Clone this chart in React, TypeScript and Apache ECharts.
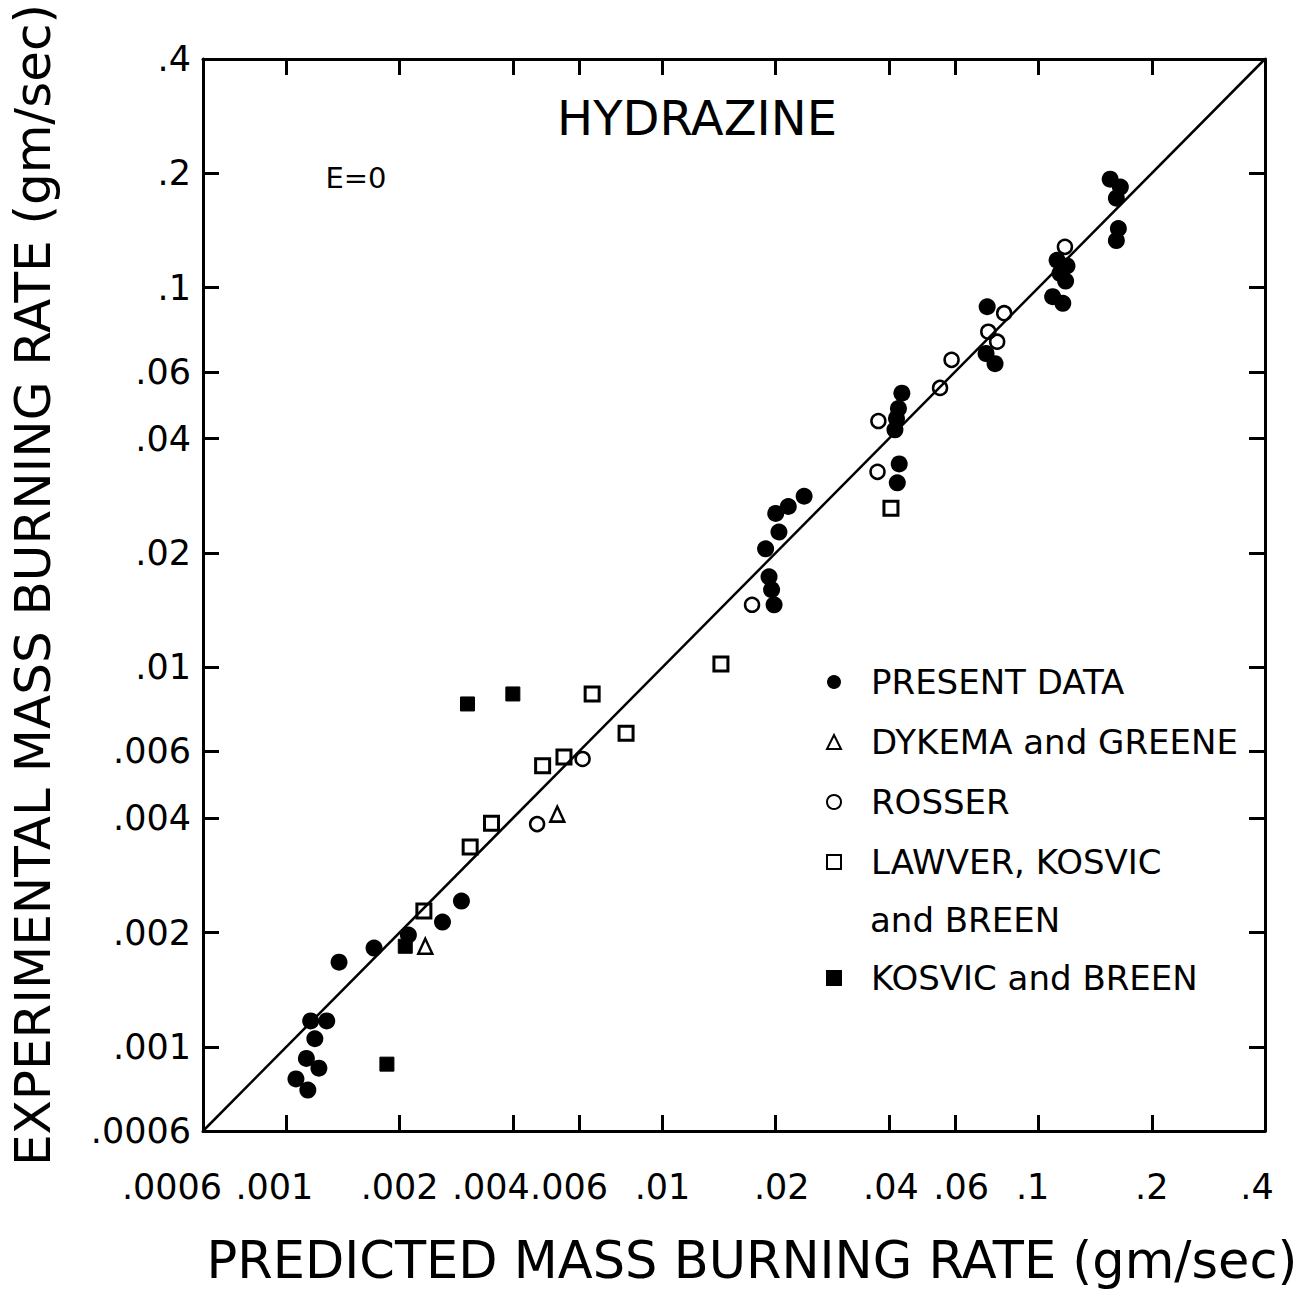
import React, { useEffect, useRef } from "react";
import * as echarts from "echarts";

// ---------- data (gm/sec) ----------
// tick positions / labels, identical on both axes
const tickValues = [0.0006, 0.001, 0.002, 0.004, 0.006, 0.01, 0.02, 0.04, 0.06, 0.1, 0.2, 0.4];
const tickLabels = [".0006", ".001", ".002", ".004", ".006", ".01", ".02", ".04", ".06", ".1", ".2", ".4"];

// [predicted, experimental]
const presentData = [
  [0.155, 0.193], [0.165, 0.184], [0.161, 0.172], [0.163, 0.143], [0.161, 0.133],
  [0.112, 0.118], [0.119, 0.114], [0.114, 0.109], [0.118, 0.104], [0.109, 0.0946], [0.116, 0.0909],
  [0.073, 0.089], [0.0725, 0.067], [0.0766, 0.063],
  [0.0433, 0.0527], [0.0424, 0.048], [0.0419, 0.0452], [0.0415, 0.0422], [0.0426, 0.0343], [0.0421, 0.0306],
  [0.0238, 0.0282], [0.0216, 0.0265], [0.02, 0.0254], [0.0204, 0.0227], [0.0188, 0.0205],
  [0.0192, 0.0173], [0.0195, 0.016], [0.0198, 0.0146],
  [0.00292, 0.00242], [0.0026, 0.00213], [0.00211, 0.00197], [0.00171, 0.00182], [0.00138, 0.00167],
  [0.00116, 0.00117], [0.00128, 0.00117], [0.00119, 0.00105], [0.00113, 0.000932], [0.00122, 0.000878],
  [0.00106, 0.000823], [0.00114, 0.000769],
];
const dykemaGreene = [[0.00525, 0.0041], [0.00234, 0.00184]];
const rosser = [
  [0.1175, 0.128], [0.081, 0.0856], [0.0735, 0.0765], [0.0776, 0.072], [0.0587, 0.0645],
  [0.0547, 0.0544], [0.0375, 0.0445], [0.0373, 0.0327], [0.0173, 0.0146], [0.00613, 0.00573],
  [0.00464, 0.00386],
];
const lawverKosvicBreen = [
  [0.0405, 0.0262], [0.0143, 0.0102], [0.0065, 0.0085], [0.008, 0.0067], [0.00547, 0.0058],
  [0.0048, 0.0055], [0.00351, 0.00388], [0.00308, 0.00336], [0.00232, 0.00228],
];
const kosvicBreen = [[0.00303, 0.008], [0.004, 0.0085], [0.00207, 0.00184], [0.00185, 0.0009]];
const agreementLine = [[0.0006, 0.0006], [0.4, 0.4]];

// ---------- styling ----------
const FONT = "DejaVu Sans";
const xLabelNudge = [-31, -12, 0, -22, -10, 0, 6, 2, 6, -6, 0, -8];

const L = (v: number) => Math.log10(v);
const tickLogs = tickValues.map(L);
const axisMin = tickLogs[0];
const axisMax = tickLogs[tickLogs.length - 1];
const nearestTick = (v: number) => {
  let best = 0;
  for (let i = 1; i < tickLogs.length; i++) {
    if (Math.abs(tickLogs[i] - v) < Math.abs(tickLogs[best] - v)) best = i;
  }
  return best;
};
const toLog = (pts: number[][]) => pts.map(([x, y]) => [L(x), L(y)]);

const xRich: Record<string, any> = {};
xLabelNudge.forEach((d, i) => {
  xRich["t" + i] = {
    fontSize: 35,
    fontFamily: FONT,
    color: "#000",
    padding: d < 0 ? [0, -2 * d, 0, 0] : [0, 0, 0, 2 * d],
  };
});

const legendRich = {
  n: { fontSize: 34, lineHeight: 40, fontFamily: FONT, color: "#000", padding: [0, 0, 0, 25] },
};

const baseAxis = (position: string, showLabel: boolean, extra: any = {}) => ({
  type: "value",
  position,
  min: axisMin,
  max: axisMax,
  axisLine: { show: true, onZero: false, lineStyle: { color: "#000", width: 3 } },
  axisTick: {
    show: true,
    inside: true,
    length: 16,
    customValues: tickLogs,
    lineStyle: { color: "#000", width: 3 },
  },
  splitLine: { show: false },
  axisLabel: { show: false },
  ...(showLabel ? extra : {}),
});

const openStyle = { color: "rgba(0,0,0,0)", borderColor: "#000", borderWidth: 2.5, opacity: 1 };

export default function App() {
  const ref = useRef<HTMLDivElement>(null);
  useEffect(() => {
    if (!ref.current) return;
    const chart = echarts.init(ref.current, null, { renderer: "svg" });
    chart.setOption({
      animation: false,
      backgroundColor: "#fff",
      grid: { left: 203, right: 44, top: 59, bottom: 165, containLabel: false, outerBoundsMode: "none" },
      xAxis: [
        baseAxis("bottom", true, {
          name: "PREDICTED MASS BURNING RATE (gm/sec)",
          nameLocation: "middle",
          nameGap: 104,
          nameMoveOverlap: false,
          nameTextStyle: { fontSize: 51, fontFamily: FONT, color: "#000", padding: [0, 0, 0, 36] },
          axisLabel: {
            show: true,
            customValues: tickLogs,
            margin: 38,
            fontSize: 35,
            fontFamily: FONT,
            color: "#000",
            formatter: (v: number) => {
              const i = nearestTick(v);
              return "{t" + i + "|" + tickLabels[i] + "}";
            },
            rich: xRich,
          },
        }),
        baseAxis("top", false),
      ],
      yAxis: [
        baseAxis("left", true, {
          name: "EXPERIMENTAL MASS BURNING RATE (gm/sec)",
          nameLocation: "middle",
          nameGap: 145,
          nameRotate: 90,
          nameMoveOverlap: false,
          nameTextStyle: { fontSize: 50, fontFamily: FONT, color: "#000", padding: [0, 0, 0, 20] },
          axisLabel: {
            show: true,
            customValues: tickLogs,
            margin: 12,
            fontSize: 35,
            fontFamily: FONT,
            color: "#000",
            formatter: (v: number) => tickLabels[nearestTick(v)],
          },
        }),
        baseAxis("right", false),
      ],
      legend: [
        {
          orient: "vertical",
          left: 826,
          top: 662,
          padding: 0,
          itemGap: 20,
          itemWidth: 14,
          itemHeight: 14,
          selectedMode: false,
          data: ["PRESENT DATA", "DYKEMA and GREENE", "ROSSER", "LAWVER, KOSVIC and BREEN"],
          formatter: (name: string) =>
            "{n|" + (name === "LAWVER, KOSVIC and BREEN" ? "LAWVER, KOSVIC" : name) + "}",
          textStyle: { fontSize: 34, lineHeight: 40, fontFamily: FONT, color: "#000", rich: legendRich },
        },
        {
          orient: "vertical",
          left: 826,
          top: 958,
          padding: 0,
          itemWidth: 14,
          itemHeight: 14,
          selectedMode: false,
          data: ["KOSVIC and BREEN"],
          formatter: (name: string) => "{n|" + name + "}",
          textStyle: { fontSize: 34, lineHeight: 40, fontFamily: FONT, color: "#000", rich: legendRich },
        },
      ],
      graphic: [
        {
          type: "text",
          x: 697,
          y: 118,
          style: {
            text: "HYDRAZINE",
            fontSize: 48,
            fontFamily: FONT,
            fill: "#000",
            textAlign: "center",
            textVerticalAlign: "middle",
            align: "center",
            verticalAlign: "middle",
          },
        },
        {
          type: "text",
          x: 356,
          y: 178,
          style: {
            text: "E=0",
            fontSize: 29,
            fontFamily: FONT,
            fill: "#000",
            textAlign: "center",
            textVerticalAlign: "middle",
            align: "center",
            verticalAlign: "middle",
          },
        },
        {
          type: "text",
          x: 870,
          y: 920,
          style: {
            text: "and BREEN",
            fontSize: 34,
            fontFamily: FONT,
            fill: "#000",
            textAlign: "left",
            textVerticalAlign: "middle",
            align: "left",
            verticalAlign: "middle",
          },
        },
      ],
      series: [
        {
          name: "agreement",
          type: "line",
          data: toLog(agreementLine),
          symbol: "none",
          silent: true,
          lineStyle: { color: "#000", width: 2.5, opacity: 1 },
          z: 1,
        },
        {
          name: "PRESENT DATA",
          type: "scatter",
          data: toLog(presentData),
          symbol: "circle",
          symbolSize: 17,
          itemStyle: { color: "#000", opacity: 1 },
          z: 3,
        },
        {
          name: "DYKEMA and GREENE",
          type: "scatter",
          data: toLog(dykemaGreene),
          symbol: "triangle",
          symbolSize: [14, 15],
          itemStyle: openStyle,
          z: 3,
        },
        {
          name: "ROSSER",
          type: "scatter",
          data: toLog(rosser),
          symbol: "circle",
          symbolSize: 14,
          itemStyle: openStyle,
          z: 3,
        },
        {
          name: "LAWVER, KOSVIC and BREEN",
          type: "scatter",
          data: toLog(lawverKosvicBreen),
          symbol: "rect",
          symbolSize: 14,
          itemStyle: { color: "rgba(0,0,0,0)", borderColor: "#000", borderWidth: 3, opacity: 1 },
          z: 3,
        },
        {
          name: "KOSVIC and BREEN",
          type: "scatter",
          data: toLog(kosvicBreen),
          symbol: "rect",
          symbolSize: 14,
          itemStyle: { color: "#000", borderColor: "#000", borderWidth: 1, opacity: 1 },
          z: 3,
        },
      ],
    });
    return () => chart.dispose();
  }, []);
  return (
    <div
      ref={ref}
      style={{ position: "absolute", left: 0, top: 0, width: 1309, height: 1296, background: "#fff" }}
    />
  );
}
